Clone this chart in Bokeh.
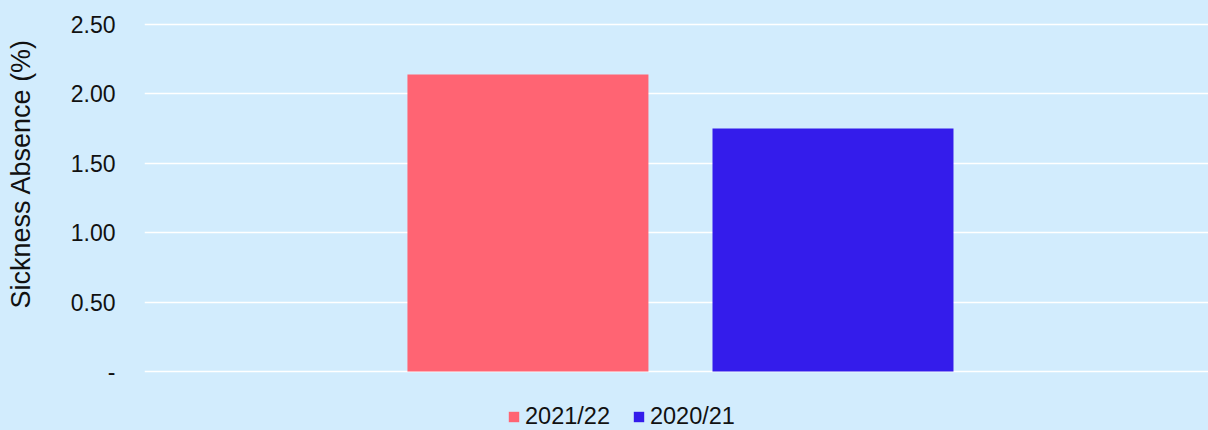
from bokeh.plotting import figure
from bokeh.models import Range1d, FixedTicker, Legend, LegendItem, Title
from bokeh.embed import file_html
from bokeh.resources import INLINE

# ---- data ----
series = ["2021/22", "2020/21"]
values = [2.14, 1.75]
y_ticks = [0, 0.5, 1.0, 1.5, 2.0, 2.5]
y_tick_labels = ["-", "0.50", "1.00", "1.50", "2.00", "2.50"]
y_label = "Sickness Absence (%)"

# ---- style ----
BG = "#D2ECFD"
colors = ["#FF6473", "#341CEB"]
FONT = "Liberation Sans"

p = figure(width=1208, height=430, output_backend="svg", toolbar_location=None,
           x_range=Range1d(-1.757, 1.731), y_range=Range1d(-0.425, 2.514),
           background_fill_color=BG, border_fill_color=BG, outline_line_color=None,
           min_border_left=144, min_border_right=0, min_border_top=22, min_border_bottom=0)

n = len(series)
items = []
for i, (name, v) in enumerate(zip(series, values)):
    off = i - (n - 1) / 2
    r = p.vbar(x=[off], top=[v], bottom=0, width=0.79, fill_color=colors[i], line_color=None)
    items.append(LegendItem(label=name, renderers=[r]))

p.xaxis.visible = False
p.xgrid.visible = False

p.yaxis.ticker = FixedTicker(ticks=y_ticks)
p.yaxis.major_label_overrides = {t: l for t, l in zip(y_ticks, y_tick_labels)}
p.yaxis.axis_line_color = None
p.yaxis.major_tick_line_color = None
p.yaxis.minor_tick_line_color = None
p.yaxis.major_tick_out = 0
p.yaxis.major_label_standoff = 29
p.yaxis.major_label_text_font = FONT
p.yaxis.major_label_text_font_size = "23px"
p.yaxis.major_label_text_color = "#111111"
# blank spacer label to widen the axis panel (pushes the title outward)
p.yaxis.axis_label = " "
p.yaxis.axis_label_text_font_size = "12px"
p.yaxis.axis_label_standoff = 15

ylab = Title(text=y_label, align="left", offset=122, text_font=FONT,
             text_font_size="27px", text_font_style="normal", text_color="#111111",
             standoff=0)
p.add_layout(ylab, "left")

p.ygrid.grid_line_color = "white"
p.ygrid.grid_line_width = 1.5

legend = Legend(items=items, location=(363, 0), orientation="horizontal",
                glyph_width=13, glyph_height=13, label_standoff=5, spacing=22,
                padding=0, margin=0, border_line_color=None, background_fill_alpha=0,
                label_text_font=FONT, label_text_font_size="23.5px", label_text_color="#111111")
p.add_layout(legend, "center")

html = file_html(p, INLINE)
html = html.replace("</head>", "<style>body{background:%s;}</style></head>" % BG, 1)
open("out.html", "w").write(html)
